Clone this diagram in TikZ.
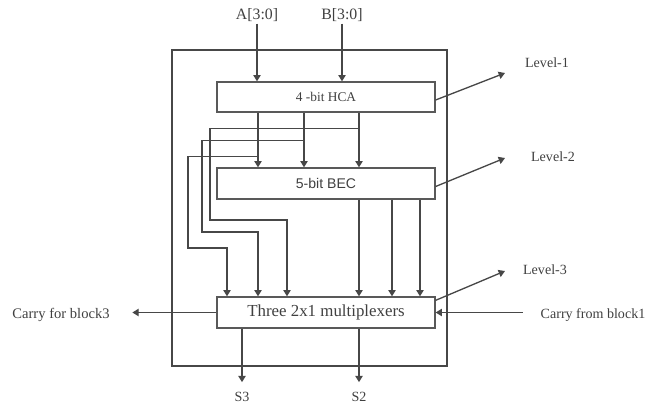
\documentclass[tikz,border=0pt]{standalone}
\usepackage{fontspec}
\setmainfont{Liberation Serif}
\newfontfamily\becfont{Liberation Sans}
\usepackage{tikz}
\usetikzlibrary{arrows.meta, calc}

\begin{document}
\begin{tikzpicture}[
    x=0.02cm, y=-0.02cm,
    wire/.style={draw=black!72, line width=0.75pt},
    arr/.style={wire, -{Triangle[width=4.2pt,length=3.6pt]}},
    block/.style={draw=black!65, line width=0.75pt, minimum width=4.36cm,
                  inner sep=0pt, text=black!75},
    lbl/.style={font=\fontsize{8}{9}\selectfont, text=black!75, inner sep=1pt}
]
  \useasboundingbox (0,0) rectangle (648,405);

  % outer frame
  \draw[wire] (172,50) rectangle (447,366);

  % the three levels
  \node[block, minimum height=0.6cm, font=\fontsize{7.6}{9}\selectfont]
       (hca) at (326,97) {4 -bit HCA};
  \node[block, minimum height=0.62cm, font=\becfont\fontsize{8}{9}\selectfont]
       (bec) at (326,183.5) {5-bit BEC};
  \node[block, minimum height=0.62cm, font=\fontsize{9.6}{11}\selectfont]
       (mux) at (326,312.5) {Three 2x1 multiplexers};

  % bit positions
  \foreach \n/\x in {a/227, b/258, c/287, d/304, e/359, f/392, g/420}
    \coordinate (x\n) at (\x,0);

  % inputs
  \node[lbl, font=\fontsize{9}{10}\selectfont] (ina) at (257,15) {A[3:0]};
  \node[lbl, font=\fontsize{9}{10}\selectfont] (inb) at (342,15) {B[3:0]};
  \draw[arr] (ina) -- (hca.north -| ina);
  \draw[arr] (inb) -- (hca.north -| inb);

  % HCA -> BEC
  \foreach \n in {b,d,e}
    \draw[arr] (hca.south -| x\n) -- (bec.north -| x\n);
  % BEC -> mux
  \foreach \n in {e,f,g}
    \draw[arr] (bec.south -| x\n) -- (mux.north -| x\n);

  % HCA bypass to mux
  \draw[arr] (hca.south -| xe) ++(0,16) -| (210,220) -| (mux.north -| xc);
  \draw[arr] (hca.south -| xd) ++(0,28) -| (202,232) -| (mux.north -| xb);
  \draw[arr] (hca.south -| xb) ++(0,44) -| (188,248) -| (mux.north -| xa);

  % outputs
  \node[lbl] (s3) at (242,397) {S3};
  \node[lbl] (s2) at (359,397) {S2};
  \draw[arr] (mux.south -| s3) -- ($(s3.north)+(0,-8)$);
  \draw[arr] (mux.south -| s2) -- ($(s2.north)+(0,-8)$);

  % carries
  \node[lbl, font=\fontsize{8.3}{10}\selectfont] (cout) at (61,315) {Carry for block3};
  \node[lbl, font=\fontsize{8}{10}\selectfont] (cin) at (593,315) {Carry from block1};
  \draw[arr] (mux.west) -- ++(-84,0);
  \draw[arr] ($(mux.east)+(87,0)$) -- (mux.east);

  % level labels
  \node[lbl] (lv1) at (547,63) {Level-1};
  \node[lbl] (lv2) at (553,157) {Level-2};
  \node[lbl] (lv3) at (545,270) {Level-3};
  \coordinate (t1) at (505,73);
  \coordinate (t2) at (505,158);
  \coordinate (t3) at (505,271);
  \draw[arr] ($(hca.east)+(0,3)$) -- (t1);
  \draw[arr] ($(bec.east)+(0,3)$) -- (t2);
  \draw[arr] ($(mux.north east)+(0,4)$) -- (t3);
\end{tikzpicture}
\end{document}
